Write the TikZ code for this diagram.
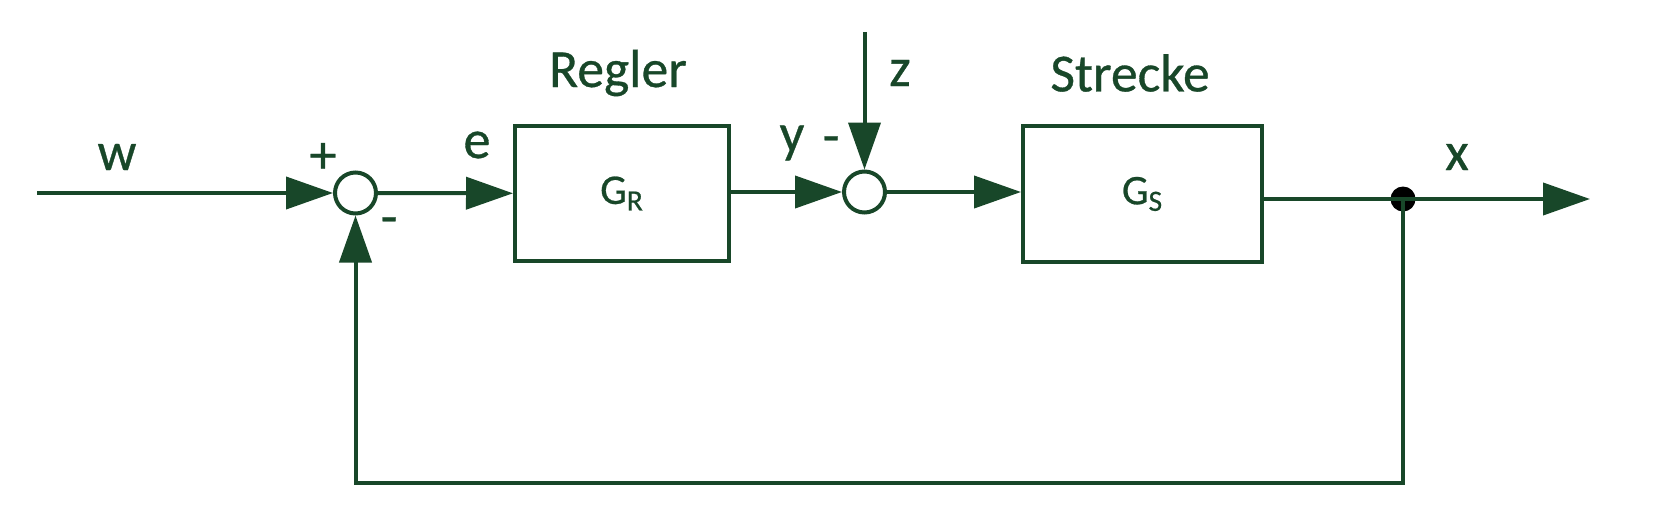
\documentclass[tikz,border=0pt]{standalone}
\usepackage{fontspec}
\setmainfont{Carlito}[FakeBold=0.6]
\definecolor{ctrlgreen}{RGB}{24, 71, 41}
\usepackage{tikz}
\usetikzlibrary{arrows.meta, positioning, calc}

\begin{document}
\begin{tikzpicture}[
  ctrlblock/.style={draw=ctrlgreen, line width=0.08cm, minimum width=4.28cm, minimum height=2.7cm, inner sep=0pt, font=\fontsize{24}{26}\selectfont},
  sumnode/.style={draw=ctrlgreen, line width=0.08cm, circle, minimum size=0.82cm, inner sep=0pt, fill=white},
  sig/.style={draw=ctrlgreen, line width=0.08cm, -{Triangle[length=0.94cm, width=0.64cm]}},
  wire/.style={draw=ctrlgreen, line width=0.08cm},
  lbl/.style={text=ctrlgreen, inner sep=0pt, font=\fontsize{31}{33}\selectfont},
  title/.style={text=ctrlgreen, inner sep=0pt, font=\fontsize{30.5}{32}\selectfont}
]
  \useasboundingbox (0,0) rectangle (33.26,10.18);

  % Blocks
  \node[sumnode] (sum1) at (7.11, 6.32) {};
  \node[ctrlblock, text=ctrlgreen] (gr) at (12.44, 6.31) {G\textsubscript{R}};
  \node[sumnode] (sum2) at (17.29, 6.34) {};
  \node[ctrlblock, text=ctrlgreen, minimum width=4.78cm, minimum height=2.72cm] (gs) at (22.85, 6.30) {G\textsubscript{S}};
  \fill[black] (28.06, 6.2) circle (0.25cm) coordinate (xdot);

  % Free ends
  \coordinate (wstart) at (0.74, 6.32);
  \coordinate (ztop) at (17.29, 9.54);
  \coordinate (xend) at (31.8, 6.2);
  \coordinate (fb) at (28.06, 0.52);

  % Signal path
  \draw[sig] (wstart) -- (sum1);
  \draw[sig] (sum1) -- (gr);
  \draw[sig] (gr.east |- sum2) -- (sum2);
  \draw[sig] (sum2) -- (gs.west |- sum2);
  \draw[sig] (ztop) -- (sum2);
  \draw[wire] (gs.east |- xdot) -- (xdot);
  \draw[sig] (xdot) -- (xend);

  % Feedback
  \draw[sig] (xdot) -- (fb) -| (sum1);

  % Labels
  \node[title] (regler) at (12.36, 8.72) {Regler};
  \node[title] (strecke) at (22.6, 8.72) {Strecke};
  \node[lbl] (lw) at (2.34, 7.04) {w};
  \node[lbl] (lplus) at (6.46, 7.02) {+};
  \node[lbl] (lminus1) at (7.78, 5.66) {-};
  \node[lbl] (le) at (9.54, 7.28) {e};
  \node[lbl] (ly) at (15.84, 7.32) {y};
  \node[lbl] (lminus2) at (16.62, 7.28) {-};
  \node[lbl] (lz) at (18.0, 8.72) {z};
  \node[lbl] (lx) at (29.14, 7.04) {x};
\end{tikzpicture}
\end{document}
